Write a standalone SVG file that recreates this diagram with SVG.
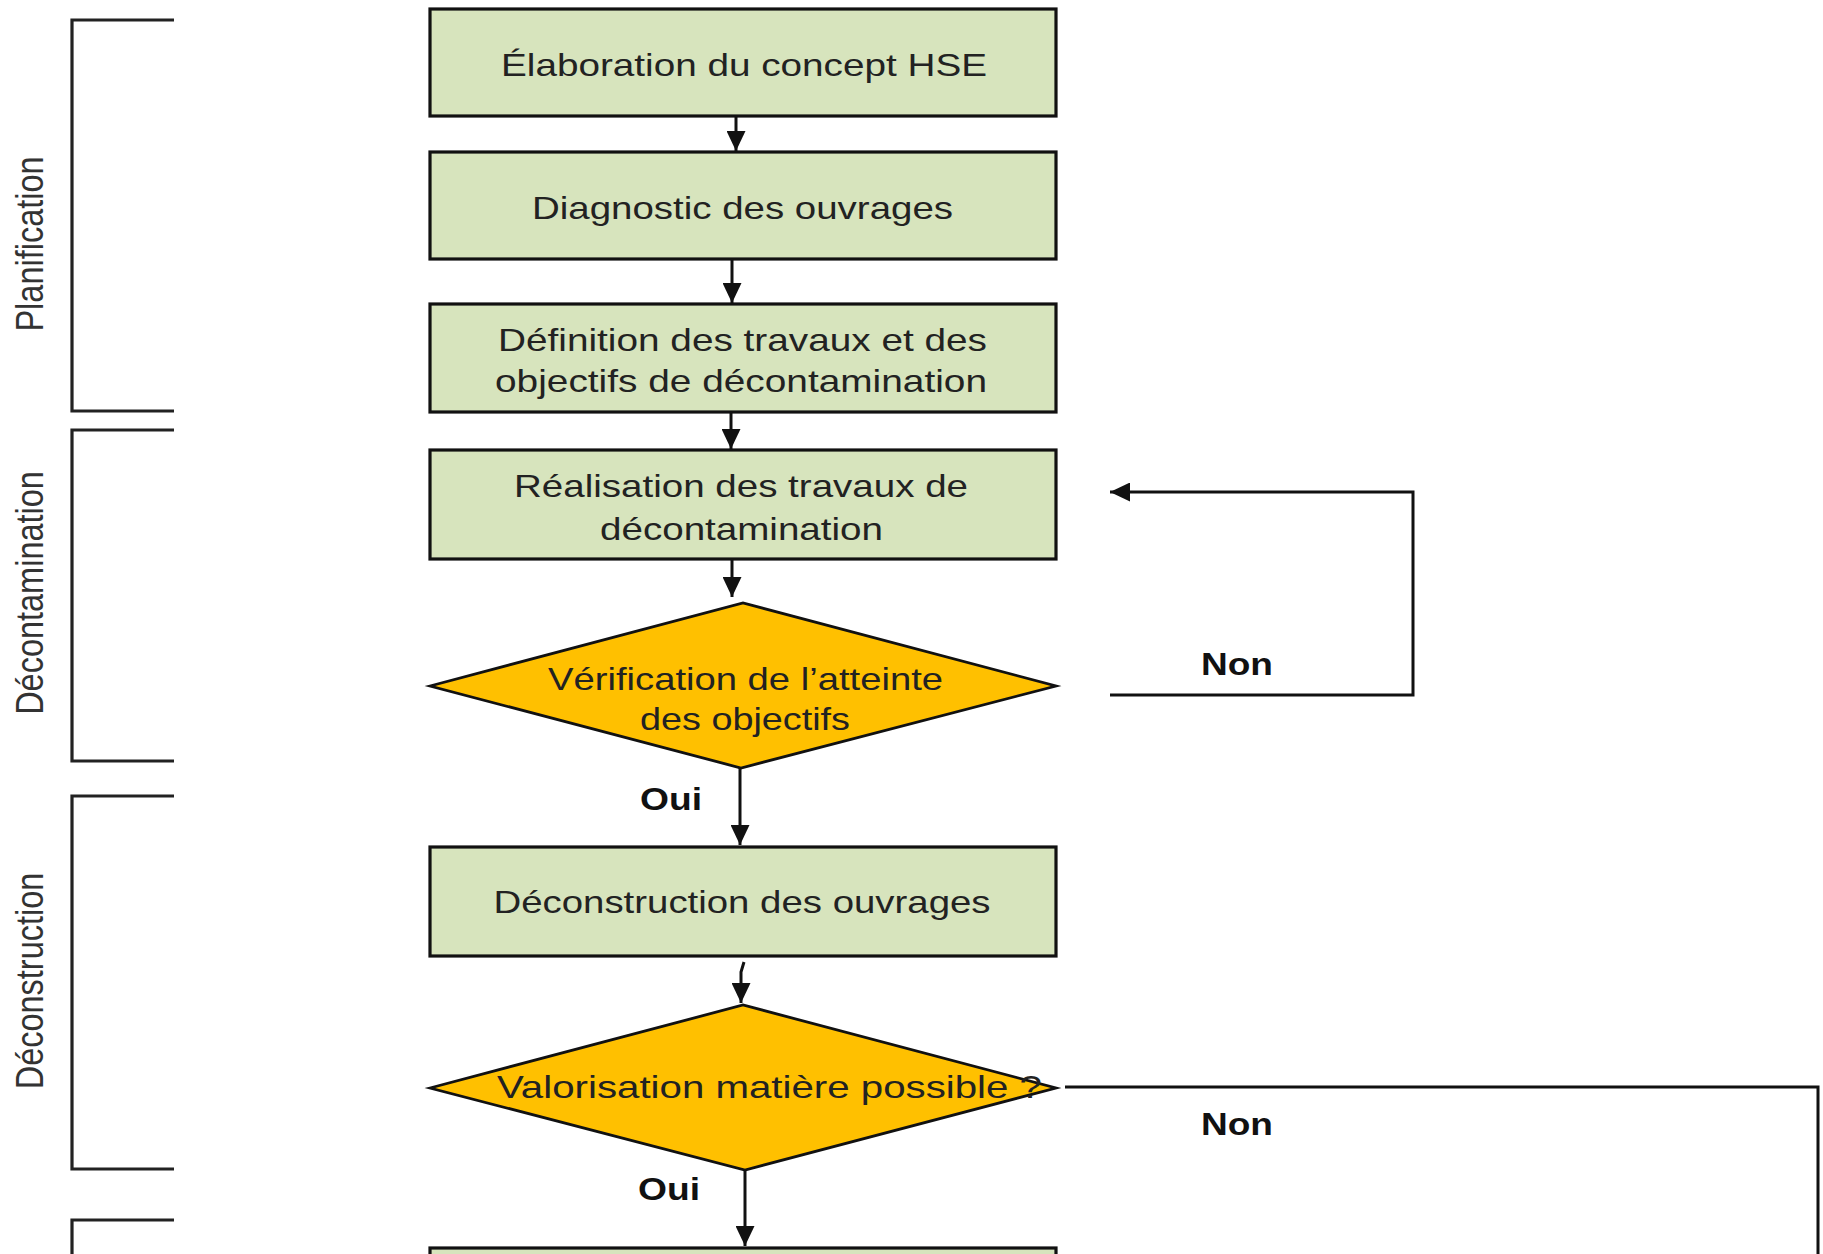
<svg xmlns="http://www.w3.org/2000/svg" width="1823" height="1254" viewBox="0 0 1823 1254">
<defs>
<style>
.box{fill:#D7E4BD;stroke:#111;stroke-width:3.2}
.dia{fill:#FFC000;stroke:#111;stroke-width:2.8;stroke-linejoin:miter}
.t{font-family:"Liberation Sans",Arial,sans-serif;font-size:32px;fill:#222;text-anchor:middle}
.lbl{font-family:"Liberation Sans",Arial,sans-serif;font-size:32.5px;fill:#333;text-anchor:middle}
.yn{font-family:"Liberation Sans",Arial,sans-serif;font-size:31px;font-weight:bold;fill:#111;text-anchor:middle}
.br{fill:none;stroke:#222;stroke-width:3.2}
.c{fill:none;stroke:#111;stroke-width:3}
.ca{fill:none;stroke:#111;stroke-width:3;marker-end:url(#ah)}
</style>
<marker id="ah" markerUnits="userSpaceOnUse" markerWidth="20" markerHeight="19" refX="20" refY="9.5" orient="auto">
<path d="M0,0 L20,9.5 L0,19 z" fill="#111"/>
</marker>
</defs>
<rect width="1823" height="1254" fill="#fff"/>

<g id="bracket-planification">
<path class="br" d="M174,20 H72 V411 H174"/>
<text class="lbl" transform="translate(43,244) scale(1.2,1) rotate(-90)">Planification</text>
</g>
<g id="bracket-decontamination">
<path class="br" d="M174,430 H72 V761 H174"/>
<text class="lbl" transform="translate(43,593) scale(1.2,1) rotate(-90)">Décontamination</text>
</g>
<g id="bracket-deconstruction">
<path class="br" d="M174,796 H72 V1169 H174"/>
<text class="lbl" transform="translate(43,981) scale(1.2,1) rotate(-90)">Déconstruction</text>
</g>
<g id="bracket-next">
<path class="br" d="M174,1220 H72 V1262"/>
</g>

<g id="n1">
<rect class="box" x="430" y="9" width="626" height="107"/>
<text class="t" x="744" y="76" textLength="486" lengthAdjust="spacingAndGlyphs">Élaboration du concept HSE</text>
</g>
<g id="n2">
<rect class="box" x="430" y="152" width="626" height="107"/>
<text class="t" x="742.5" y="219" textLength="421" lengthAdjust="spacingAndGlyphs">Diagnostic des ouvrages</text>
</g>
<g id="n3">
<rect class="box" x="430" y="304" width="626" height="108"/>
<text class="t" x="742.5" y="351" textLength="489" lengthAdjust="spacingAndGlyphs">Définition des travaux et des</text>
<text class="t" x="741" y="392" textLength="492" lengthAdjust="spacingAndGlyphs">objectifs de décontamination</text>
</g>
<g id="n4">
<rect class="box" x="430" y="450" width="626" height="109"/>
<text class="t" x="741" y="497" textLength="454" lengthAdjust="spacingAndGlyphs">Réalisation des travaux de</text>
<text class="t" x="741.5" y="540" textLength="283" lengthAdjust="spacingAndGlyphs">décontamination</text>
</g>
<g id="d1">
<polygon class="dia" points="430,686 743,603 1056,686 741,768"/>
<text class="t" x="745.5" y="690" textLength="395" lengthAdjust="spacingAndGlyphs">Vérification de l’atteinte</text>
<text class="t" x="745" y="730" textLength="210" lengthAdjust="spacingAndGlyphs">des objectifs</text>
</g>
<g id="n5">
<rect class="box" x="430" y="847" width="626" height="109"/>
<text class="t" x="742" y="913" textLength="497" lengthAdjust="spacingAndGlyphs">Déconstruction des ouvrages</text>
</g>
<g id="d2">
<polygon class="dia" points="430,1088 743,1005 1056,1088 745,1170"/>
<text class="t" x="497" y="1098" textLength="545" lengthAdjust="spacingAndGlyphs" style="text-anchor:start">Valorisation matière possible ?</text>
</g>
<g id="n6">
<rect class="box" x="430" y="1248" width="626" height="40"/>
</g>

<g id="connectors">
<line class="ca" x1="736" y1="116" x2="736" y2="151"/>
<line class="ca" x1="732" y1="259" x2="732" y2="303"/>
<line class="ca" x1="731" y1="412" x2="731" y2="449"/>
<line class="ca" x1="732" y1="559" x2="732" y2="597"/>
<line class="ca" x1="740" y1="768" x2="740" y2="845"/>
<path class="ca" d="M744,962 L741,972 L741,1003"/>
<line class="ca" x1="745" y1="1170" x2="745" y2="1246"/>
<path class="ca" d="M1110,695 H1413 V492 H1110"/>
<path class="c" d="M1065,1087 H1818 V1260"/>
<text class="yn" x="671" y="810" textLength="62" lengthAdjust="spacingAndGlyphs">Oui</text>
<text class="yn" x="669" y="1200" textLength="62" lengthAdjust="spacingAndGlyphs">Oui</text>
<text class="yn" x="1237" y="675" textLength="72" lengthAdjust="spacingAndGlyphs">Non</text>
<text class="yn" x="1237" y="1135" textLength="72" lengthAdjust="spacingAndGlyphs">Non</text>
</g>
</svg>
